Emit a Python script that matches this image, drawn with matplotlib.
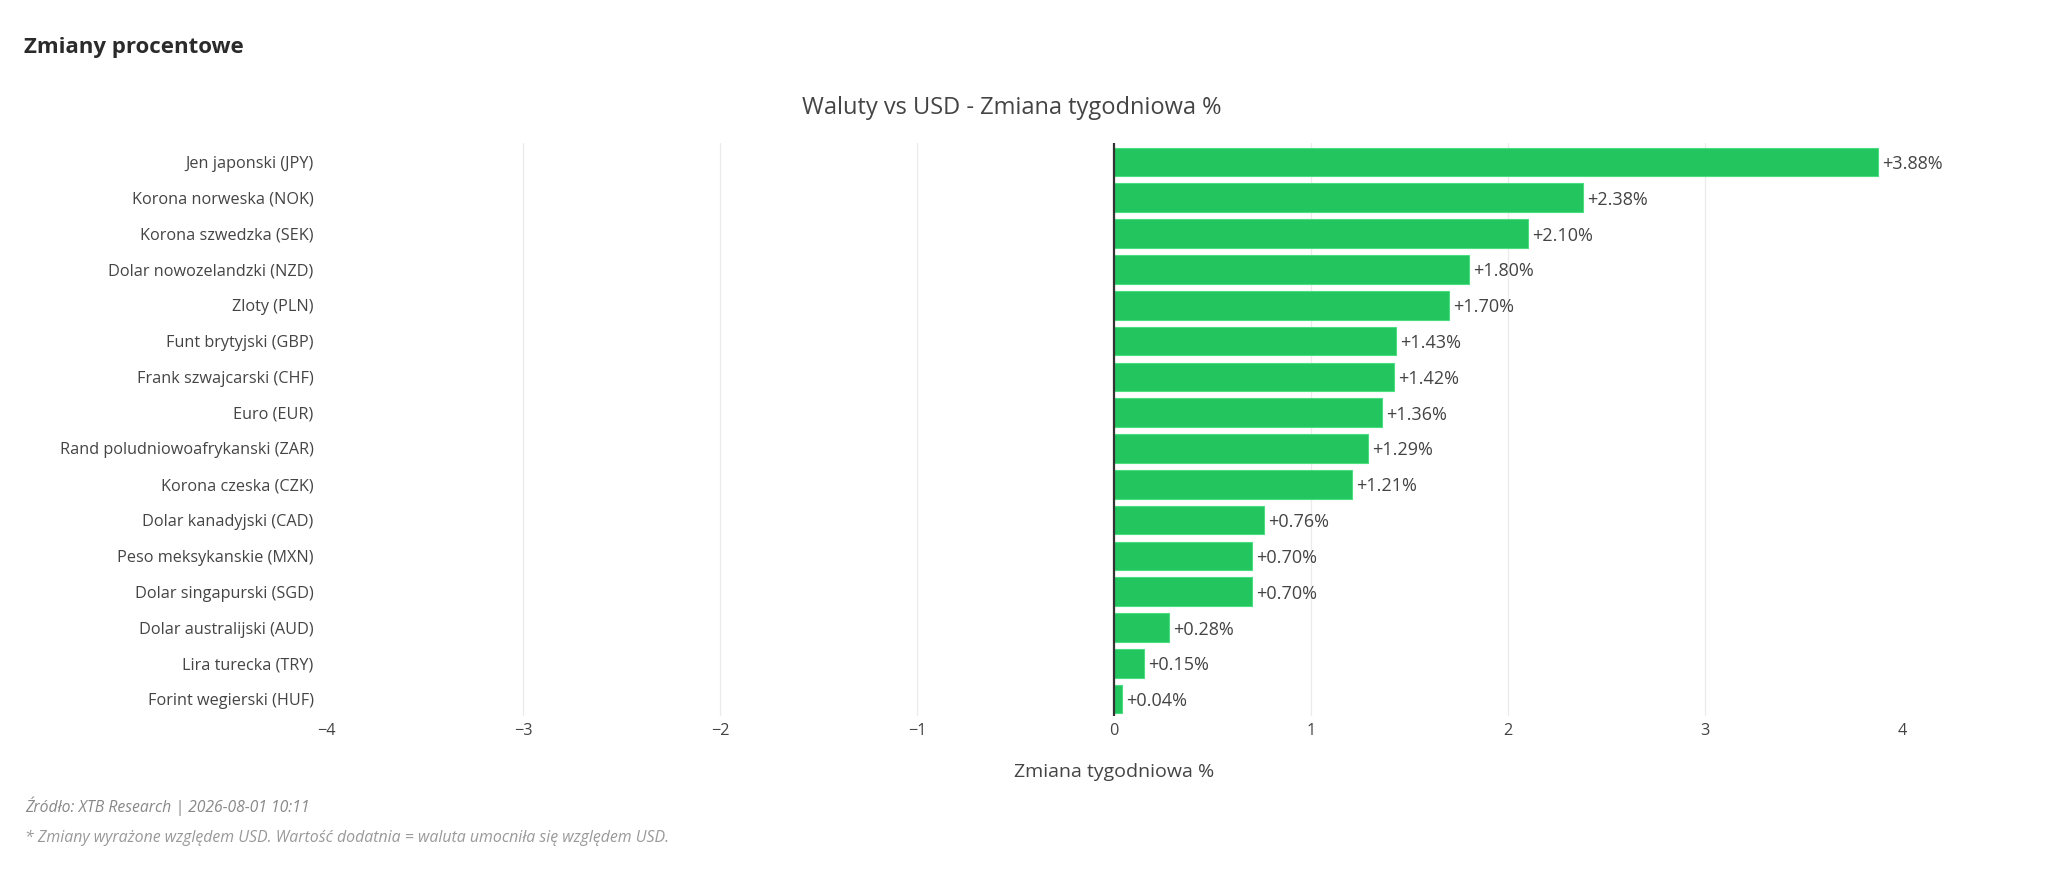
import matplotlib.pyplot as plt

# Data
currencies = [
    "Jen japonski (JPY)",
    "Korona norweska (NOK)",
    "Korona szwedzka (SEK)",
    "Dolar nowozelandzki (NZD)",
    "Zloty (PLN)",
    "Funt brytyjski (GBP)",
    "Frank szwajcarski (CHF)",
    "Euro (EUR)",
    "Rand poludniowoafrykanski (ZAR)",
    "Korona czeska (CZK)",
    "Dolar kanadyjski (CAD)",
    "Peso meksykanskie (MXN)",
    "Dolar singapurski (SGD)",
    "Dolar australijski (AUD)",
    "Lira turecka (TRY)",
    "Forint wegierski (HUF)",
]
weekly_change = [3.88, 2.38, 2.10, 1.80, 1.70, 1.43, 1.42, 1.36,
                 1.29, 1.21, 0.76, 0.70, 0.70, 0.28, 0.15, 0.04]
x_ticks = [-4, -3, -2, -1, 0, 1, 2, 3, 4]

GREEN = "#22c55e"
TEXT = "#444444"

plt.rcParams["font.family"] = ["Open Sans", "DejaVu Sans"]

W, H = 2048, 873
fig = plt.figure(figsize=(W / 100, H / 100), dpi=100)

# plot area in pixels: x 326..1902, y 143..716 (from top)
ax = fig.add_axes([326 / W, 1 - 716 / H, (1902 - 326) / W, (716 - 143) / H])

ypos = list(range(len(currencies)))
ax.barh(ypos, weekly_change, height=0.8, color=GREEN,
        edgecolor="#4ade80", linewidth=0.8, zorder=2)

for y, v in zip(ypos, weekly_change):
    ax.annotate(f"{v:+.2f}%", xy=(v, y), xytext=(3, 0), textcoords="offset points",
                ha="left", va="center_baseline", fontsize=13, color=TEXT,
                clip_on=False)

ax.set_xlim(-4, 4)
ax.set_ylim(len(currencies) - 0.5 - 0.03, -0.53)
ax.set_yticks(ypos)
ax.set_yticklabels(currencies)
ax.set_xticks(x_ticks)
ax.set_xticklabels([str(t).replace("-", "\u2212") for t in x_ticks])

ax.tick_params(axis="both", length=0, labelsize=11.7, labelcolor=TEXT)
ax.tick_params(axis="y", pad=9)
ax.tick_params(axis="x", pad=5)

for s in ax.spines.values():
    s.set_visible(False)

for t in [-3, -2, -1, 1, 2, 3]:
    ax.axvline(t, color="#ebebeb", linewidth=0.9, zorder=0)
ax.axvline(0, color="#333333", linewidth=1.6, zorder=3)

ax.set_xlabel("Zmiana tygodniowa %", fontsize=14, color=TEXT, labelpad=17)

# titles and footer
fig.text(24 / W, 1 - 48 / H, "Zmiany procentowe", fontsize=16, fontweight="bold",
         color="#2b2b2b", ha="left", va="center")
fig.text(1012 / W, 1 - 108 / H, "Waluty vs USD - Zmiana tygodniowa %", fontsize=17,
         color=TEXT, ha="center", va="center")
fig.text(25 / W, 1 - 806 / H, "Źródło: XTB Research | 2026-08-01 10:11", fontsize=11.3,
         style="italic", color="#888888", ha="left", va="center")
fig.text(25 / W, 1 - 838 / H,
         "* Zmiany wyrażone względem USD. Wartość dodatnia = waluta umocniła się względem USD.",
         fontsize=11.4, style="italic", color="#999999", ha="left", va="center")

fig.savefig("out.png", dpi=100, facecolor="white")
